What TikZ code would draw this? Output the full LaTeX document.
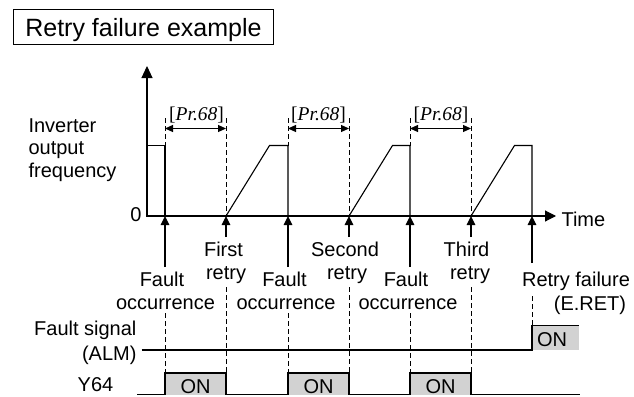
\documentclass[tikz,border=0pt]{standalone}
\usepackage{fontspec}
\setmainfont{Liberation Sans}
\newfontfamily\timesf{Liberation Serif}
\usetikzlibrary{arrows.meta}
\definecolor{ongray}{RGB}{210,210,210}
\begin{document}
\begin{tikzpicture}[x=1pt,y=-1pt,line width=1.1pt,
  txt/.style={font=\fontsize{20}{24}\selectfont, inner sep=0pt, anchor=base},
  prtxt/.style={font=\timesf\fontsize{19.5}{23}\selectfont, inner sep=0pt, anchor=base},
  dashline/.style={line width=0.9pt, dash pattern=on 5pt off 3pt},
  uparrow/.style={-{Triangle[length=9pt,width=8.5pt]}},
  dimarrow/.style={{Triangle[length=8pt,width=7pt]}-{Triangle[length=8pt,width=7pt]}},
  onbox/.style={fill=ongray, draw=none}]
\useasboundingbox (0,0) rectangle (634,396);

% title
\node[draw, line width=0.9pt, anchor=north west, inner sep=0pt, minimum width=260pt,
      text height=27pt, text depth=7.5pt, font=\fontsize{25}{30}\selectfont] (title) at (13,9.5) {Retry failure example};

% event positions on time axis
\coordinate (f1) at (165,216); \coordinate (f1top) at (165,118); \coordinate (f1hi) at (165,145.5);
\coordinate (r1) at (226,216); \coordinate (r1top) at (226,118);
\coordinate (f2) at (288,216); \coordinate (f2top) at (288,118); \coordinate (f2hi) at (288,145.5);
\coordinate (r2) at (349,216); \coordinate (r2top) at (349,118);
\coordinate (f3) at (410,216); \coordinate (f3top) at (410,118); \coordinate (f3hi) at (410,145.5);
\coordinate (r3) at (471,216); \coordinate (r3top) at (471,118);
\coordinate (f4) at (532,216); \coordinate (f4hi) at (532,145.5);

% axes
\coordinate (O) at (147,216);
\coordinate (ytop) at (147,66);
\coordinate (xend) at (556,216);
\draw[{Triangle[length=12pt,width=11pt]}-{Triangle[length=11pt,width=11pt]}] (ytop) -- (O) -- (xend);
\node[txt, anchor=base east] (zero) at (142,221.7) {0};
\node[txt, anchor=base west] (time) at (561,226.5) {Time};

\node[txt, anchor=base west] (lab1) at (28,132) {Inverter};
\node[txt, anchor=base west] (lab2) at (28,154.5) {output};
\node[txt, anchor=base west] (lab3) at (28,177) {frequency};

% frequency waveform
\draw (147,145.5) -- (f1hi) -- (f1);
\draw (r1) -- (269.5,145.5) -- (f2hi) -- (f2);
\draw (r2) -- (392.5,145.5) -- (f3hi) -- (f3);
\draw (r3) -- (514.5,145.5) -- (f4hi) -- (f4);

% dashed guides above
\foreach \n in {f1,f2,f3} { \draw[dashline] (\n top) -- (\n hi); }
\foreach \n in {r1,r2,r3} { \draw[dashline] (\n top) -- (\n); }

% Pr.68 dimension arrows
\draw[dimarrow] (165,128.5) -- (226,128.5);
\draw[dimarrow] (288,128.5) -- (349,128.5);
\draw[dimarrow] (410,128.5) -- (471,128.5);
\node[prtxt] (pr1) at (196.5,120) {[\textit{Pr.68}]};
\node[prtxt] (pr2) at (318.5,120) {[\textit{Pr.68}]};
\node[prtxt] (pr3) at (441,120) {[\textit{Pr.68}]};

% event arrows below axis
\draw[uparrow] (165,267) -- (f1);
\draw[uparrow] (288,267) -- (f2);
\draw[uparrow] (410,267) -- (f3);
\draw[uparrow] (532,263) -- (f4);
\draw[uparrow] (226,237) -- (r1);
\draw[uparrow] (349,237) -- (r2);
\draw[uparrow] (471,237) -- (r3);

% event labels
\node[txt] (fa1) at (162,286.7) {Fault};
\node[txt] (oc1) at (165.5,309.5) {occurrence};
\node[txt] (fa2) at (284.5,286.7) {Fault};
\node[txt] (oc2) at (286,309.5) {occurrence};
\node[txt] (fa3) at (406,286.7) {Fault};
\node[txt] (oc3) at (408,309.5) {occurrence};
\node[txt] (fi) at (223.5,256.5) {First};
\node[txt] (re1) at (226,279) {retry};
\node[txt] (se) at (345,256.5) {Second};
\node[txt] (re2) at (347,279) {retry};
\node[txt] (th) at (466.5,256.5) {Third};
\node[txt] (re3) at (470,279) {retry};
\node[txt] (rf) at (576,286.7) {Retry failure};
\node[txt] (eret) at (590,310) {(E.RET)};

% dashed guides below
\foreach \x in {165,288,410} { \draw[dashline] (\x,313) -- (\x,373); }
\foreach \x in {226,349,471} { \draw[dashline] (\x,287) -- (\x,373); }
\draw[dashline] (532,296) -- (532,325.7);

% ALM signal
\node[txt, anchor=base east] (alm1) at (137,335) {Fault signal};
\node[txt, anchor=base east] (alm2) at (137,360) {(ALM)};
\fill[ongray] (532,325.7) rectangle (579,350);
\draw (141.7,350) -- (532,350) -- (532,325.7) -- (579,325.7);
\node[txt] (on0) at (552,346.5) {ON};

% Y64 signal
\node[txt] (y64) at (95.5,391) {Y64};
\foreach \a/\b in {165/226, 288/349, 410/471} {
  \fill[ongray] (\a,373) rectangle (\b,394.5);
}
\draw (137,394.5) -- (165,394.5) -- (165,373) -- (226,373) -- (226,394.5)
  -- (288,394.5) -- (288,373) -- (349,373) -- (349,394.5)
  -- (410,394.5) -- (410,373) -- (471,373) -- (471,394.5) -- (580,394.5);
\node[txt] (on1) at (195.5,393) {ON};
\node[txt] (on2) at (318.5,393) {ON};
\node[txt] (on3) at (440.5,393) {ON};
\end{tikzpicture}
\end{document}
